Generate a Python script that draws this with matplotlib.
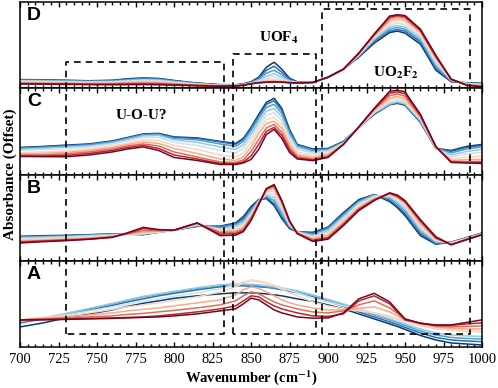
import matplotlib
matplotlib.use("Agg")
import matplotlib.pyplot as plt
from matplotlib.ticker import MultipleLocator

# wavenumber grid (cm-1), shared by all spectra
wavenumber = [700, 715, 730, 745, 760, 770, 780, 790, 800, 815, 830, 840, 845, 850, 855, 860,
              865, 870, 875, 880, 890, 900, 910, 920, 930, 940, 945, 950, 960, 970, 980, 990, 1000]

# absorbance (arbitrary, offset per panel), first spectrum = blue end, last = red end
panel_d = [
    [8.7, 8.4, 8.0, 7.5, 8.0, 9.5, 10.3, 9.8, 7.8, 5.2, 3.6, 3.5, 4.5, 6.5, 11, 21, 26, 19, 10, 6.5, 5.5, 11, 19, 31, 45, 55.5, 57, 55, 44, 18, 6.5, 5.5, 5],
    [8.4, 8.1, 7.7, 7.2, 7.6, 9.0, 9.8, 9.3, 7.4, 5.0, 3.4, 3.3, 4.2, 6.0, 10, 18, 22, 16, 9, 6.2, 5.5, 11, 19, 32, 47, 57, 58.5, 57, 46, 20, 7, 5.3, 4.8],
    [8.0, 7.7, 7.3, 6.9, 7.2, 8.4, 9.2, 8.8, 7.0, 4.7, 3.2, 3.1, 4.0, 5.6, 9, 15, 18, 13.5, 8, 6.0, 5.5, 11, 19, 32, 48, 59, 60.5, 59, 48, 22, 7.5, 5, 4.5],
    [7.5, 7.2, 6.9, 6.5, 6.7, 7.8, 8.5, 8.2, 6.5, 4.4, 3.0, 2.9, 3.8, 5.3, 8, 12, 14.5, 11, 7.3, 5.8, 5.5, 11, 19, 33, 49, 61, 62.5, 61, 50, 24, 8, 4.8, 4],
    [7.0, 6.7, 6.4, 6.1, 6.2, 7.2, 7.8, 7.5, 6.0, 4.1, 2.8, 2.7, 3.6, 5.0, 7.2, 10, 11.5, 9, 6.8, 5.6, 5.6, 11, 19, 33, 50, 63, 65, 63.5, 52, 26, 8.5, 4.5, 3.6],
    [6.3, 6.0, 5.8, 5.5, 5.6, 6.4, 6.9, 6.7, 5.4, 3.8, 2.6, 2.6, 3.4, 4.8, 6.5, 8.5, 9, 7.8, 6.3, 5.5, 5.6, 11, 19, 34, 51, 65.5, 67.5, 66, 54, 28, 9, 4.2, 3.0],
    [5.6, 5.4, 5.2, 5.0, 5.0, 5.6, 6.0, 5.8, 4.8, 3.4, 2.4, 2.5, 3.2, 4.6, 6.0, 7.0, 7.3, 6.8, 6.0, 5.4, 5.7, 11, 19, 34, 52, 67.5, 69.5, 68, 56, 30, 9, 3.8, 2.5],
    [5.0, 4.8, 4.6, 4.4, 4.4, 4.8, 5.0, 4.8, 4.0, 3.0, 2.2, 2.3, 3.1, 4.5, 5.6, 6.3, 6.6, 6.3, 5.7, 5.3, 5.7, 11, 19, 35, 53, 69.5, 71.5, 70, 57, 31, 9, 3.4, 2.0],
    [4.6, 4.4, 4.2, 4.0, 4.0, 4.2, 4.3, 4.1, 3.5, 2.7, 2.1, 2.2, 3.0, 4.5, 5.5, 6.1, 6.4, 6.1, 5.6, 5.2, 5.8, 11, 19, 35, 54, 71, 72.5, 71.5, 58, 32, 9, 3.2, 1.7],
    [4.3, 4.1, 3.9, 3.6, 3.5, 3.6, 3.7, 3.5, 3.1, 2.5, 2.0, 2.2, 3.0, 4.5, 5.5, 6.0, 6.3, 6.0, 5.5, 5.2, 5.8, 11, 19, 35, 54, 72, 73.3, 72.5, 59, 33, 9, 3.0, 1.5],
]

panel_c = [
    [27, 28, 29.3, 30.5, 33.5, 37, 40.5, 41, 37.5, 36.5, 33, 31, 36, 47, 60, 72, 76, 66, 45, 30, 25.5, 26, 33, 47, 60, 69.5, 71, 69, 52, 26, 24, 28, 30],
    [26.5, 27.5, 28.8, 30, 33, 36.5, 40, 40.5, 37, 36, 32.5, 30, 35, 46, 58.5, 70, 73.5, 64, 43.5, 29.5, 25, 25.5, 32.5, 47, 60.5, 70, 71.5, 69.5, 52.5, 26, 23, 27, 29],
    [26, 27, 28.2, 29.5, 32.5, 36, 39.5, 40, 36, 34.5, 30.5, 28, 33, 43.5, 56, 67, 70, 61, 41.5, 28.5, 24, 25, 32, 47, 61, 70, 72, 70, 53, 26, 21.5, 25.5, 27.5],
    [25, 26, 27.2, 28.5, 31.5, 35, 38.5, 39, 34.5, 32, 27.5, 25, 29.5, 40, 52.5, 63, 66, 57.5, 39, 27, 22.5, 24, 31.5, 47, 61.5, 70.5, 72.5, 70.5, 54, 26, 19.5, 23, 25],
    [24, 25, 26, 27.5, 30.5, 33.5, 37, 37, 32, 29, 24, 21.5, 26, 36.5, 49, 59, 61.5, 53.5, 36, 25, 21, 23, 31, 47, 62, 72, 74, 72, 55, 26.5, 17.5, 20.5, 22],
    [22, 22.5, 23.5, 25.5, 28.5, 31.5, 34.5, 34, 29, 25, 19.5, 17.5, 21.5, 32, 45, 55, 57, 49.5, 33, 22.5, 19, 21.5, 30.5, 47.5, 63, 74, 76, 73.5, 56, 27, 15.5, 17.5, 18.5],
    [20.5, 21, 22, 24, 27, 30, 32.5, 31, 26, 21, 15.5, 14, 17.5, 27.5, 41, 51, 53, 46, 30, 20, 17, 20, 30, 47.5, 64, 76, 78, 75.5, 57, 27, 14, 15, 15],
    [19.5, 19.5, 20.5, 22.5, 25.5, 28.5, 30.5, 28.5, 22.5, 17.5, 12.5, 12, 14.5, 23, 35, 46.5, 50, 42, 27, 18, 15.5, 18.5, 30, 47.5, 65, 78.5, 80.5, 78, 58, 27.5, 13, 13, 13],
    [18.5, 18.5, 19, 21, 24, 27, 29, 26, 19.5, 15.5, 11, 10.8, 12.5, 18.5, 30, 43, 47, 39, 24.5, 16.5, 14.5, 17.5, 30, 47.5, 65.5, 81, 82.5, 80.5, 59, 28, 12.5, 12, 12],
    [18, 17.8, 17.7, 19.5, 22.5, 25.5, 27.5, 24, 17, 14, 10, 10, 11.5, 15, 25, 40, 45, 36, 22, 15.5, 13.8, 17, 30, 47.5, 66, 83, 84, 82.5, 60, 28, 12, 11.5, 11],
]

panel_b = [
    [24.3, 25, 25.3, 26, 26.7, 26.5, 26, 28.5, 30.5, 34.3, 34.5, 37.7, 44, 54, 61, 62, 55, 42, 32, 29, 28.3, 33.5, 48, 61, 66, 59, 53, 45, 25, 16.5, 18.5, 23, 27.7],
    [24, 24.5, 25, 25.8, 26.5, 26.5, 26.2, 28.5, 30.5, 34.5, 34, 37, 42, 52, 60.5, 63, 57, 44, 33, 29, 27.5, 33, 47, 60, 66, 60.5, 54.5, 47, 27, 17, 18.5, 23, 27.5],
    [23.5, 24, 24.5, 25.5, 26.3, 26.5, 26.5, 28.5, 30.5, 35, 33, 36, 40, 50, 60, 64, 60, 47, 34, 29, 26.5, 32, 45.5, 59, 65.5, 62, 56.5, 49.5, 29, 18, 18.5, 22.5, 27.3],
    [23, 23.5, 24, 25, 26, 26.5, 26.8, 28.5, 30.5, 35.5, 32, 34.5, 38, 48.5, 59.5, 65.5, 63, 50, 35, 29, 25, 30, 44, 58, 65, 63.5, 58.5, 52, 31, 19, 18, 22.5, 27],
    [22, 22.5, 23.5, 24.5, 25.5, 26.5, 27, 28.5, 30.5, 36, 31, 33, 36, 47, 59, 67, 66, 53, 36, 28.5, 24, 28.5, 42, 56, 64, 65, 60.5, 54, 33, 20, 17.5, 22, 27],
    [21, 21.5, 22.5, 23.5, 25, 26.5, 27.5, 29, 30.5, 36.5, 30, 31.5, 34.5, 45.5, 58.5, 68.5, 69, 55, 37, 28, 23, 27, 40, 54.5, 63, 66, 62, 56, 35, 21, 17, 22, 26.8],
    [20, 20.5, 21.5, 22.5, 24.5, 26.5, 28.5, 29.5, 30.5, 37, 29, 30, 33, 44, 58, 70, 72, 57, 38, 28, 22, 25.5, 38.5, 53, 62, 66.5, 63, 57.5, 37, 22, 16.5, 21.5, 26.5],
    [19, 20, 21, 22, 24, 27, 30, 30, 30.5, 37.5, 28, 28.5, 31.5, 42.5, 57, 71, 74, 58.5, 39, 27.5, 21, 23.5, 37, 52, 61, 67, 64, 58.5, 39, 22.5, 16, 21.5, 26.3],
    [18.5, 19.5, 20.5, 21.5, 23.5, 27.5, 32, 31, 30.5, 37.7, 26.5, 27, 30, 41, 56.5, 72, 75, 59.5, 39.5, 27.2, 20, 22.5, 36, 51, 60.5, 67.5, 64.5, 59, 40, 23, 16, 21, 26],
    [17.7, 19, 20, 21.5, 23.3, 28, 33.3, 31, 30.5, 37.7, 25, 25.5, 29, 40, 56, 72, 76, 60, 40, 27, 19.3, 21.5, 35, 50, 60, 67.7, 65.5, 60, 41, 24, 16, 21, 26],
]

panel_a = [
    [20, 24, 29, 33, 37, 40.5, 43.5, 46, 48.5, 51, 53, 54, 54, 54, 53.5, 53, 52, 51, 49.5, 48, 45.5, 42, 38, 33, 28, 23, 20.5, 17.5, 11.5, 7, 4, 3, 2],
    [24, 28, 32, 37, 41.5, 45, 48, 51, 53.5, 57, 60, 61, 61, 60.5, 60, 59.5, 58.5, 57, 55.5, 54, 50, 45.5, 40.5, 35, 30, 25, 22.5, 19.5, 14, 9.5, 7, 6, 5.3],
    [25, 28.5, 33, 38, 43, 46.5, 50, 52.5, 55, 58.5, 61.5, 62.5, 62, 61.5, 61, 60, 59, 58, 57, 55.5, 51.5, 47, 42, 37, 32, 27, 24.5, 21.5, 16, 12, 9.5, 8.5, 8],
    [25.5, 29, 33.5, 38.5, 43.5, 47, 50.5, 53, 55.5, 59, 62, 63, 63, 62.5, 62, 61, 60, 59, 57.5, 56, 52, 47.5, 43, 38, 33, 28, 25.5, 23, 18, 14, 12, 11, 10.5],
    [26, 29, 32, 36, 40, 43, 45.5, 48, 50.5, 54, 58, 62, 65, 66, 65, 63.5, 61.5, 59, 56.5, 54, 49, 45, 41, 37.5, 34, 30, 27.5, 25, 21, 18, 16.5, 15.5, 15],
    [27, 29.5, 31, 34, 37.5, 40, 42, 44, 46.5, 50, 55, 60, 64, 67, 66, 64, 61, 57.5, 54, 51, 45, 41, 38, 36, 34, 31, 28.5, 26, 22, 19, 17, 16, 16],
    [27, 28.5, 30, 32, 34, 36, 37.5, 39, 41, 44, 47, 52, 57, 60, 58.5, 55, 51, 47, 44, 42, 39, 37, 37, 38.5, 40, 35, 31, 27, 23, 20, 18.5, 18, 18],
    [27, 28, 29, 30, 31, 32.5, 33.5, 35, 36.5, 39, 42, 46, 51, 55, 53, 49, 45, 42, 40, 38, 35, 34, 36, 42, 46, 39, 33.5, 28, 23.5, 21, 20, 20.5, 21],
    [27, 27.5, 28, 28.5, 29, 29.5, 30, 31, 32.5, 35, 38, 41, 46, 51, 50, 45, 41, 38, 36, 34, 31, 30.5, 33, 46, 51, 43, 35, 27, 24, 21.5, 21.5, 23, 24],
    [27, 27, 27.5, 28, 28.5, 29, 29.5, 30, 31, 33, 36, 38, 43, 48.7, 47, 42, 37, 34, 32, 30, 28.7, 29, 34, 48, 53.5, 45, 36.5, 28, 23.5, 22, 22, 24.5, 27],
]

panel_letters = ["D", "C", "B", "A"]

plt.rcParams["font.family"] = "Liberation Serif"
plt.rcParams["mathtext.fontset"] = "stix"

fig, axes = plt.subplots(4, 1, sharex=True, figsize=(4.98, 3.88), dpi=100)
fig.subplots_adjust(left=0.0402, right=0.9679, top=0.9948, bottom=0.1057, hspace=0)

cmap = plt.get_cmap("RdBu_r")
shades = [0.02, 0.12, 0.22, 0.31, 0.39, 0.61, 0.69, 0.78, 0.88, 0.98]

for ax, letter, spectra in zip(axes, panel_letters, [panel_d, panel_c, panel_b, panel_a]):
    for i, spec in enumerate(spectra):
        ax.plot(wavenumber, spec, color=cmap(shades[i]), lw=1.1)
    ax.set_ylim(0, 86)
    ax.set_yticks([])
    ax.text(0.015, 0.94, letter, transform=ax.transAxes, family="Liberation Sans",
            weight="bold", fontsize=14, va="top", ha="left")
    ax.xaxis.set_major_locator(MultipleLocator(25))
    ax.xaxis.set_minor_locator(MultipleLocator(5))
    ax.tick_params(axis="x", which="both", direction="in", top=True, bottom=True, width=1)
    ax.tick_params(axis="x", which="major", length=3.5)
    ax.tick_params(axis="x", which="minor", length=2)
    for s in ax.spines.values():
        s.set_linewidth(1.1)

axes[-1].set_xlim(700, 1000)
axes[-1].tick_params(axis="x", labelsize=10.5, pad=4)

# overlay for the dashed regions that span all panels
ov = fig.add_axes([0.0402, 0.1057, 0.9277, 0.8891], zorder=10)
ov.set_xlim(700, 1000)
ov.set_ylim(0, 1)
ov.axis("off")
ov.patch.set_alpha(0)

bottom = 0.037
for x0, x1, top in [(730, 832.5, 0.826), (838, 892.5, 0.850), (896, 992, 0.979)]:
    ov.plot([x0, x0, x1, x1, x0], [bottom, top, top, bottom, bottom], color="black",
            lw=1.2, ls=(0, (4, 3)))

ov.text(778.6, 0.670, "U-O-U?", fontsize=11, weight="bold", ha="center", va="center")
ov.text(868, 0.895, r"UOF$_\mathbf{4}$", fontsize=11, weight="bold", ha="center", va="center")
ov.text(944, 0.795, r"UO$_\mathbf{2}$F$_\mathbf{2}$", fontsize=11, weight="bold", ha="center", va="center")

fig.text(0.02, 0.55, "Absorbance (Offset)", rotation=90, fontsize=11, weight="bold",
         ha="center", va="center")
fig.text(0.504, 0.028, r"Wavenumber (cm$^{\mathbf{-1}}$)", fontsize=10.5, weight="bold",
         ha="center", va="center")

fig.savefig("out.png", dpi=100)
